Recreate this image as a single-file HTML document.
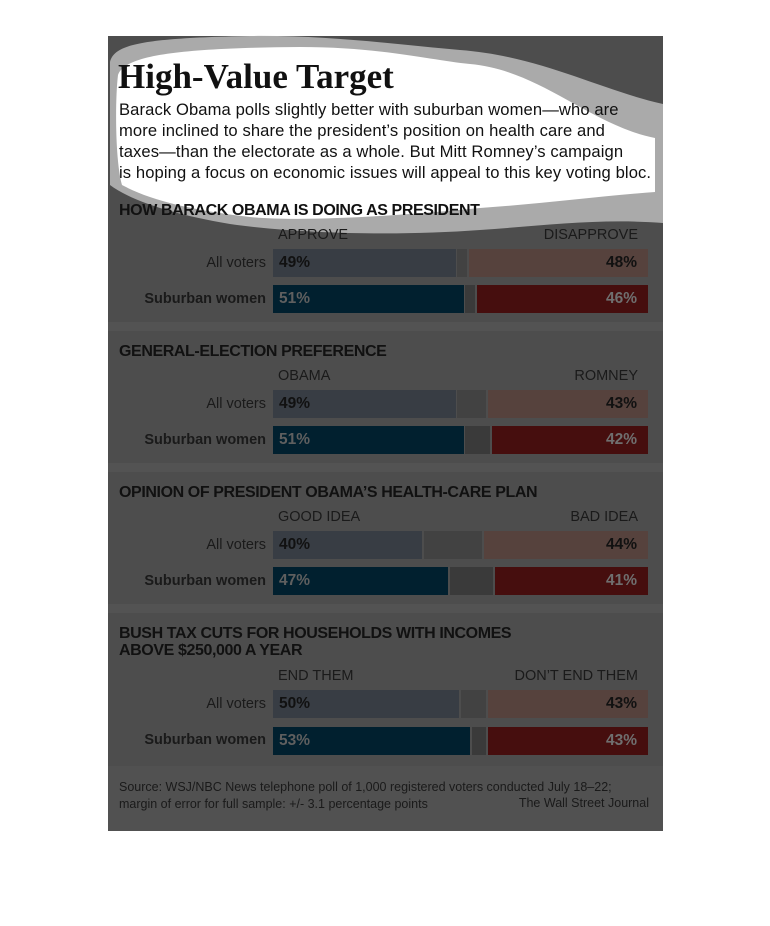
<!DOCTYPE html>
<html><head><meta charset="utf-8"><style>
body{margin:0;background:#fff;width:770px;height:926px;position:relative;overflow:hidden;font-family:"Liberation Sans",sans-serif}
.a{position:absolute}
.panel{left:108px;top:36px;width:555px;height:795px;background:#4d4d4d}
.sep{left:108px;width:555px;height:9px;background:#535353}
.h{font-weight:bold;font-size:16px;color:#111;left:119px;letter-spacing:-0.4px}
.cat{font-size:14.5px;color:#1a1a1a}
.lab{font-size:14.5px;color:#1a1a1a;width:150px;text-align:right;left:116px}
.b{height:28px}
.p{font-size:15.5px;font-weight:bold;line-height:28px}
</style></head><body>
<div class="a panel"></div>
<div class="a sep" style="top:322px"></div>
<div class="a sep" style="top:463px"></div>
<div class="a sep" style="top:604px"></div>
<div class="a" style="left:108px;top:766px;width:555px;height:65px;background:#515151"></div>
<svg class="a" style="left:0;top:0" width="770" height="926">
<path d="M110 62 C114 45 140 38 250 36 C330 35 400 45 460 50 C540 56 600 90 663 104 L663 223 C600 218 540 226 480 230 C400 236 300 234 230 224 C170 214 130 200 110 185 Z" fill="#aaa"/>
<path d="M118 75 C125 55 180 48 300 47 C380 47 430 60 470 64 C540 70 590 125 655 138 L655 192 C600 196 540 204 480 208 C400 216 300 222 250 217 C190 210 150 200 122 185 C115 160 115 100 118 75 Z" fill="#fff"/>
</svg>
<div class="a" style="left:118px;top:57px;font-family:'Liberation Serif',serif;font-weight:bold;font-size:35px;color:#111;letter-spacing:0px">High-Value Target</div>
<div class="a" style="left:119px;top:99px;width:545px;font-size:16.6px;line-height:21px;color:#111;letter-spacing:0.1px">Barack Obama polls slightly better with suburban women—who are<br>more inclined to share the president’s position on health care and<br>taxes—than the electorate as a whole. But Mitt Romney’s campaign<br>is hoping a focus on economic issues will appeal to this key voting bloc.</div>

<div class="a h" style="top:202px">HOW BARACK OBAMA IS DOING AS PRESIDENT</div>
<div class="a cat" style="left:278px;top:227px">APPROVE</div>
<div class="a cat" style="right:132px;top:227px">DISAPPROVE</div>
<div class="a lab" style="top:255px">All voters</div>
<div class="a lab" style="top:291px;font-weight:bold">Suburban women</div>
<div class="a b" style="left:273px;top:249px;width:183px;background:#383d44"></div>
<div class="a b" style="left:457px;top:249px;width:10px;background:#424242"></div>
<div class="a b" style="left:469px;top:249px;width:179px;background:#56423d"></div>
<div class="a b" style="left:273px;top:285px;width:191px;background:#01202f"></div>
<div class="a b" style="left:465px;top:285px;width:10px;background:#3a3a3a"></div>
<div class="a b" style="left:477px;top:285px;width:171px;background:#460e0e"></div>
<div class="a p" style="left:279px;top:249px;color:#111">49%</div>
<div class="a p" style="right:133px;top:249px;color:#111">48%</div>
<div class="a p" style="left:279px;top:285px;color:#5f5f5f">51%</div>
<div class="a p" style="right:133px;top:285px;color:#6f6f6f">46%</div>

<div class="a h" style="top:343px">GENERAL-ELECTION PREFERENCE</div>
<div class="a cat" style="left:278px;top:368px">OBAMA</div>
<div class="a cat" style="right:132px;top:368px">ROMNEY</div>
<div class="a lab" style="top:396px">All voters</div>
<div class="a lab" style="top:432px;font-weight:bold">Suburban women</div>
<div class="a b" style="left:273px;top:390px;width:183px;background:#383d44"></div>
<div class="a b" style="left:457px;top:390px;width:29px;background:#424242"></div>
<div class="a b" style="left:488px;top:390px;width:160px;background:#56423d"></div>
<div class="a b" style="left:273px;top:426px;width:191px;background:#01202f"></div>
<div class="a b" style="left:465px;top:426px;width:25px;background:#3a3a3a"></div>
<div class="a b" style="left:492px;top:426px;width:156px;background:#460e0e"></div>
<div class="a p" style="left:279px;top:390px;color:#111">49%</div>
<div class="a p" style="right:133px;top:390px;color:#111">43%</div>
<div class="a p" style="left:279px;top:426px;color:#5f5f5f">51%</div>
<div class="a p" style="right:133px;top:426px;color:#6f6f6f">42%</div>

<div class="a h" style="top:484px">OPINION OF PRESIDENT OBAMA’S HEALTH-CARE PLAN</div>
<div class="a cat" style="left:278px;top:509px">GOOD IDEA</div>
<div class="a cat" style="right:132px;top:509px">BAD IDEA</div>
<div class="a lab" style="top:537px">All voters</div>
<div class="a lab" style="top:573px;font-weight:bold">Suburban women</div>
<div class="a b" style="left:273px;top:531px;width:149px;background:#383d44"></div>
<div class="a b" style="left:424px;top:531px;width:58px;background:#424242"></div>
<div class="a b" style="left:484px;top:531px;width:164px;background:#56423d"></div>
<div class="a b" style="left:273px;top:567px;width:175px;background:#01202f"></div>
<div class="a b" style="left:450px;top:567px;width:43px;background:#3a3a3a"></div>
<div class="a b" style="left:495px;top:567px;width:153px;background:#460e0e"></div>
<div class="a p" style="left:279px;top:531px;color:#111">40%</div>
<div class="a p" style="right:133px;top:531px;color:#111">44%</div>
<div class="a p" style="left:279px;top:567px;color:#5f5f5f">47%</div>
<div class="a p" style="right:133px;top:567px;color:#6f6f6f">41%</div>

<div class="a h" style="top:625px;line-height:17px">BUSH TAX CUTS FOR HOUSEHOLDS WITH INCOMES<br>ABOVE $250,000 A YEAR</div>
<div class="a cat" style="left:278px;top:668px">END THEM</div>
<div class="a cat" style="right:132px;top:668px">DON’T END THEM</div>
<div class="a lab" style="top:696px">All voters</div>
<div class="a lab" style="top:732px;font-weight:bold">Suburban women</div>
<div class="a b" style="left:273px;top:690px;width:186px;background:#383d44"></div>
<div class="a b" style="left:461px;top:690px;width:25px;background:#424242"></div>
<div class="a b" style="left:488px;top:690px;width:160px;background:#56423d"></div>
<div class="a b" style="left:273px;top:727px;width:197px;background:#01202f"></div>
<div class="a b" style="left:472px;top:727px;width:14px;background:#3a3a3a"></div>
<div class="a b" style="left:488px;top:727px;width:160px;background:#460e0e"></div>
<div class="a p" style="left:279px;top:690px;color:#111">50%</div>
<div class="a p" style="right:133px;top:690px;color:#111">43%</div>
<div class="a p" style="left:279px;top:727px;color:#5f5f5f">53%</div>
<div class="a p" style="right:133px;top:727px;color:#6f6f6f">43%</div>

<div class="a" style="left:119px;top:779px;font-size:12.5px;line-height:17px;color:#1a1a1a">Source: WSJ/NBC News telephone poll of 1,000 registered voters conducted July 18–22;<br>margin of error for full sample: +/- 3.1 percentage points</div>
<div class="a" style="right:121px;top:796px;font-size:12.5px;color:#1a1a1a">The Wall Street Journal</div>
</body></html>
